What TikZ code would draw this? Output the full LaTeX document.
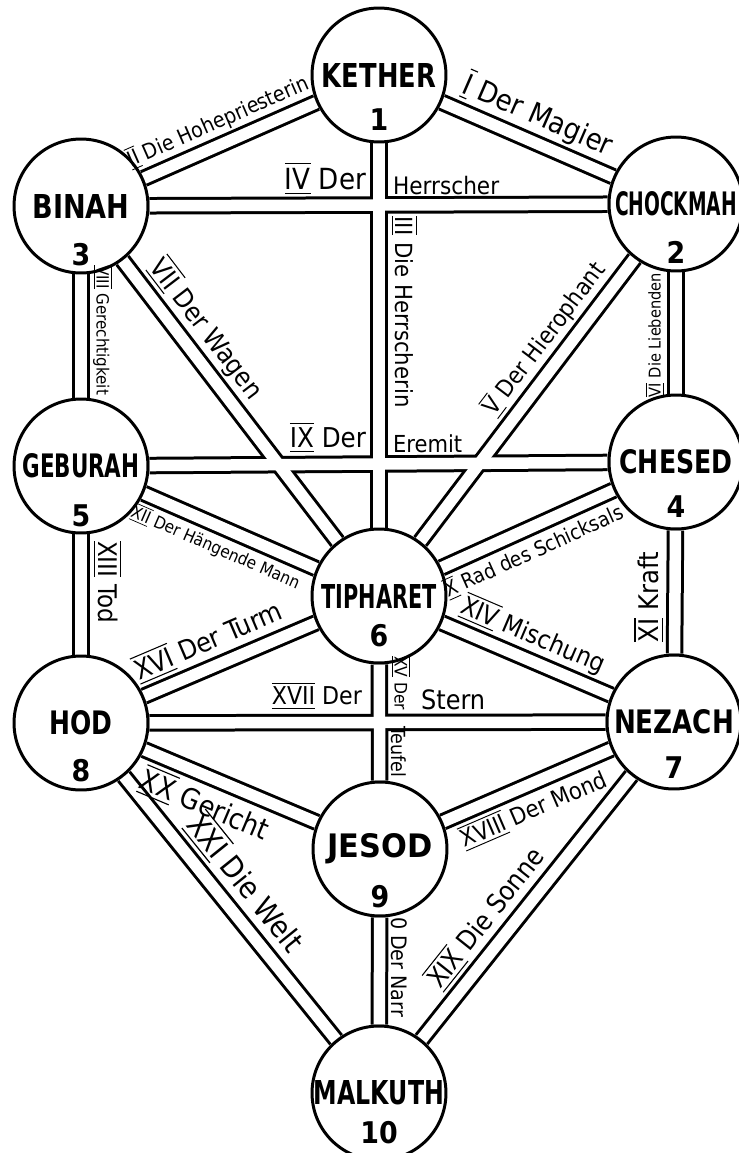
\documentclass[tikz,border=0pt]{standalone}
\usepackage{fontspec}
\setmainfont{DejaVu Sans Condensed}
\usepackage{graphicx}
\pgfdeclarelayer{bg}
\pgfsetlayers{bg,main}
\newlength\pxu
\setlength\pxu{0.02cm}
\newcommand\rn[1]{$\overline{\underline{\mbox{#1}}}$}
\newcommand\lab[2]{\resizebox{#1\pxu}{!}{#2}}
\newcommand\nm[2]{\resizebox{#1\pxu}{24\pxu}{\bfseries #2}}
\tikzset{
  sefira/.style={circle, draw, line width=1.7pt, fill=white, minimum size=2.68cm, inner sep=0pt},
  num/.style={font=\fontsize{17}{17}\selectfont\bfseries, inner sep=0pt},
  pathout/.style={line width=0.35cm, black},
  pathin/.style={line width=0.23cm, white},
  lbl/.style={inner sep=1pt},
}
\begin{document}
\begin{tikzpicture}[x=0.02cm, y=-0.02cm]
\useasboundingbox (0,0) rectangle (739,1153);
% Sefirot
\node[sefira] (K)  at (379,75)   {\nm{114}{KETHER}};
\node[sefira] (B)  at (81,206)   {\nm{97}{BINAH}};
\node[sefira] (C)  at (676,204)  {\nm{122}{CHOCKMAH}};
\node[sefira] (G)  at (81,466)   {\nm{117}{GEBURAH}};
\node[sefira] (Ch) at (676,462)  {\nm{113}{CHESED}};
\node[sefira] (T)  at (379,596)  {\nm{115}{TIPHARET}};
\node[sefira] (H)  at (81,723)   {\nm{63}{HOD}};
\node[sefira] (N)  at (674,722)  {\nm{120}{NEZACH}};
\node[sefira] (J)  at (380,849)  {\nm{105}{JESOD}};
\node[sefira] (M)  at (379,1093) {\nm{130}{MALKUTH}};
% numbers
\node[num] (nK)  at ([yshift=-0.9cm]K.center)  {1};
\node[num] (nC)  at ([yshift=-0.96cm]C.center) {2};
\node[num] (nB)  at ([yshift=-0.98cm]B.center) {3};
\node[num] (nCh) at ([yshift=-0.9cm]Ch.center) {4};
\node[num] (nG)  at ([yshift=-1.0cm]G.center)  {5};
\node[num] (nT)  at ([yshift=-0.8cm]T.center)  {6};
\node[num] (nN)  at ([yshift=-0.92cm]N.center) {7};
\node[num] (nH)  at ([yshift=-0.96cm]H.center) {8};
\node[num] (nJ)  at ([yshift=-0.96cm]J.center) {9};
\node[num] (nM)  at ([yshift=-0.8cm]M.center)  {10};
% paths (double lines)
\begin{pgfonlayer}{bg}
\fill[white] (0,0) rectangle (739,1153);
\foreach \a/\b in {K/B, K/C, K/T, B/C, B/G, B/T, C/Ch, C/T, G/Ch, G/T, G/H, Ch/T, Ch/N, T/H, T/N, T/J, H/N, H/J, H/M, N/J, N/M, J/M}
  \draw[pathout] (\a) -- (\b);
\foreach \a/\b in {K/B, K/C, K/T, B/C, B/G, B/T, C/Ch, C/T, G/Ch, G/T, G/H, Ch/T, Ch/N, T/H, T/N, T/J, H/N, H/J, H/M, N/J, N/M, J/M}
  \draw[pathin] (\a) -- (\b);
\end{pgfonlayer}
% sloped labels
\path (B.center) -- (K.center) node[lbl, sloped, pos=0.49, above=5pt] (l2) {\lab{196}{\rn{II} Die Hohepriesterin}};
\path (K.center) -- (C.center) node[lbl, sloped, pos=0.5, above=5pt] (l1) {\lab{160}{\rn{I} Der Magier}};
\path (B.center) -- (T.center) node[lbl, sloped, pos=0.355, above=5pt] (l7) {\lab{168}{\rn{VII} Der Wagen}};
\path (T.center) -- (C.center) node[lbl, sloped, pos=0.62, above=5pt] (l5) {\lab{184}{\rn{V} Der Hierophant}};
\path (G.center) -- (T.center) node[lbl, sloped, pos=0.48, below=5pt] (l12) {\lab{182}{\rn{XII} Der Hängende Mann}};
\path (T.center) -- (Ch.center) node[lbl, sloped, pos=0.49, below=5pt] (l10) {\lab{194}{\rn{X} Rad des Schicksals}};
\path (H.center) -- (T.center) node[lbl, sloped, pos=0.46, above=5pt] (l16) {\lab{158}{\rn{XVI} Der Turm}};
\path (T.center) -- (N.center) node[lbl, sloped, pos=0.49, above=5pt] (l14) {\lab{154}{\rn{XIV} Mischung}};
\path (H.center) -- (J.center) node[lbl, sloped, pos=0.45, below=5pt] (l20) {\lab{137}{\rn{XX} Gericht}};
\path (J.center) -- (N.center) node[lbl, sloped, pos=0.49, below=5pt] (l18) {\lab{157}{\rn{XVIII} Der Mond}};
\path (H.center) -- (M.center) node[lbl, sloped, pos=0.48, above=5pt] (l21) {\lab{166}{\rn{XXI} Die Welt}};
\path (M.center) -- (N.center) node[lbl, sloped, pos=0.43, above=5pt] (l19) {\lab{170}{\rn{XIX} Die Sonne}};
% horizontal labels
\node[lbl, anchor=south east] (l4a) at (368,197) {\lab{81}{\rn{IV} Der}};
\node[lbl, anchor=south west] (l4b) at (391,197) {\lab{106}{Herrscher}};
\node[lbl, anchor=south east] (l9a) at (368,455) {\lab{76}{\rn{IX} Der}};
\node[lbl, anchor=south west] (l9b) at (391,455) {\lab{69}{Eremit}};
\node[lbl, anchor=south east] (l17a) at (364,712) {\lab{90}{\rn{XVII} Der}};
\node[lbl, anchor=south west] (l17b) at (419,712) {\lab{64}{Stern}};
% vertical labels
\node[lbl, rotate=-90, anchor=south] (l3) at (389,312) {\lab{191}{\rn{III} Die Herrscherin}};
\node[lbl, rotate=-90, anchor=south] (l8) at (91,330) {\lab{130}{\rn{VIII} Gerechtigkeit}};
\node[lbl, rotate=-90, anchor=south] (l13) at (91,582) {\lab{82}{\rn{XIII} Tod}};
\node[lbl, rotate=90, anchor=south] (l6) at (666,335) {\lab{124}{\rn{VI} Die Liebenden}};
\node[lbl, rotate=90, anchor=south] (l11) at (666,597) {\lab{90}{\rn{XI} Kraft}};
\node[lbl, rotate=-90, anchor=south] (l15a) at (389,683) {\lab{54}{\rn{XV} Der}};
\node[lbl, rotate=-90, anchor=south] (l15b) at (389,752) {\lab{51}{Teufel}};
\node[lbl, rotate=-90, anchor=south] (l0) at (389,967) {\lab{100}{0 Der Narr}};
\end{tikzpicture}
\end{document}
